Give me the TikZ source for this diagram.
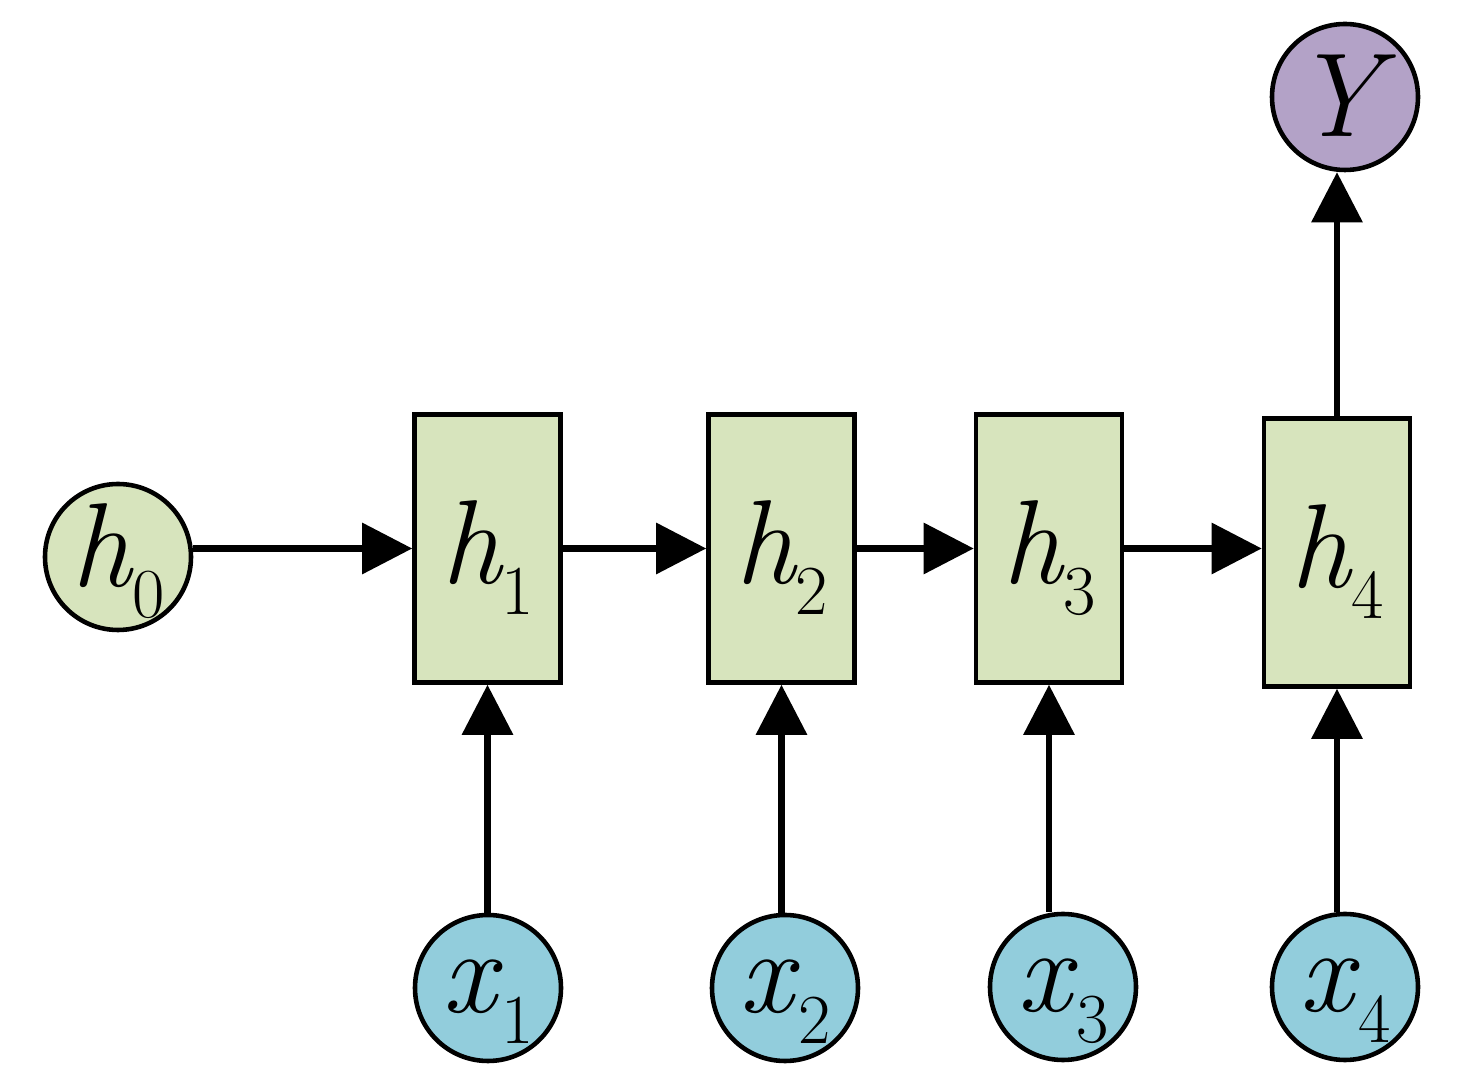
\documentclass[tikz,border=0pt]{standalone}
\usepackage{xcolor}
\usepackage{tikz}
\usetikzlibrary{positioning,calc,arrows.meta}
\definecolor{hgreen}{HTML}{D7E4BD}
\definecolor{xblue}{HTML}{92CDDC}
\definecolor{ypurple}{HTML}{B3A2C7}
\newcommand{\varsub}[2]{\textit{#1}\kern-0.5pt\raisebox{-0.31cm}{\fontsize{20}{20}\selectfont #2}}

\begin{document}
\begin{tikzpicture}[
        every node/.style={font=\fontsize{34}{34}\selectfont, inner sep=0pt, line width=1.3pt},
        hstate/.style={draw, fill=hgreen, rectangle, minimum width=1.46cm, minimum height=2.68cm, text height=0.7cm, text depth=0pt},
        hinit/.style={draw, fill=hgreen, circle, minimum size=1.46cm, text height=0.6cm, text depth=0pt},
        xin/.style={draw, fill=xblue, circle, minimum size=1.46cm, text height=0.5cm, text depth=0pt},
        yout/.style={draw, fill=ypurple, circle, minimum size=1.46cm, text height=0.8cm, text depth=0pt},
        arr/.style={line width=1.8pt, -{Triangle[length=0.5cm, width=0.5cm]}}
    ]
        \useasboundingbox (0,0) rectangle (14.6,10.91);
        \node[hinit] (h0) at (1.18,5.34) {\varsub{h}{0}};
        \node[hstate] (h1) at (4.875,5.425) {\varsub{h}{1}};
        \node[hstate] (h2) at (7.815,5.425) {\varsub{h}{2}};
        \node[hstate] (h3) at (10.49,5.425) {\varsub{h}{3}};
        \node[hstate] (h4) at (13.37,5.385) {\varsub{h}{4}};
        \node[yout] (Y) at (13.45,9.94) {\textit{Y}};
        \node[xin] (x1) at (4.88,1.03) {\varsub{x}{1}};
        \node[xin] (x2) at (7.85,1.03) {\varsub{x}{2}};
        \node[xin] (x3) at (10.63,1.04) {\varsub{x}{3}};
        \node[xin] (x4) at (13.45,1.04) {\varsub{x}{4}};
        \draw[arr] (h0.east |- h1.west) -- (h1.west);
        \draw[arr] (h1.east) -- (h2.west);
        \draw[arr] (h2.east) -- (h3.west);
        \draw[arr] (h3.east) -- (h3.east -| h4.west);
        \foreach \i in {1,...,4}
            \draw[arr] (h\i.south |- x\i.north) -- (h\i.south);
        \draw[arr] (h4.north) -- (h4.north |- Y.south);
    \end{tikzpicture}
\end{document}
